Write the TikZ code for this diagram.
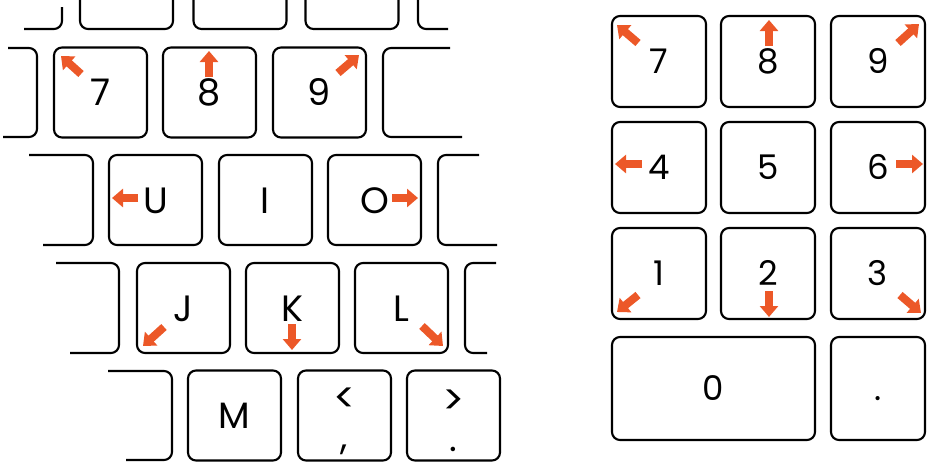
\documentclass[tikz,border=0pt]{standalone}
\usepackage{fontspec}
\setmainfont{Poppins}
\usetikzlibrary{arrows.meta}

\definecolor{keyorange}{RGB}{236,88,40}

\tikzset{every picture/.style={line width=0.75pt}}
\tikzset{
  key/.style={draw, line width=1.6pt, rounded corners=6pt, inner sep=0pt,
    minimum width=69.75pt, minimum height=67.5pt,
    font=\fontsize{27.5}{27.5}\selectfont, text height=19.5pt, text depth=0pt},
  padkey/.style={key, minimum width=70.5pt, minimum height=68.25pt,
    font=\fontsize{25.5}{25.5}\selectfont, text height=18pt},
  edgekey/.style={line width=1.6pt, rounded corners=6pt},
  twolabel/.style={align=center, inner sep=0pt,
    font=\fontsize{27.5}{27.5}\selectfont},
  dirarrow/.style={draw=keyorange, line width=6pt,
    -{Triangle[width=13.5pt,length=8.25pt]}}
}

\begin{document}
\begin{tikzpicture}[x=0.75pt,y=0.75pt,yscale=-1,xscale=1]
\useasboundingbox (0,0) rectangle (928,464);
\clip (0,0) rectangle (928,464);

%Shape: top row, cut by the edge
\draw [edgekey] (62,7) -- (62,29) -- (24,29) ;
\node (t1) [key] at (126.5,-16) {};
\node (t2) [key] at (240,-16) {};
\node (t3) [key] at (352,-16) {};
\draw [edgekey] (418,0) -- (418,29) -- (448,29) ;

%Shape: row with 7 8 9
\draw [edgekey] (8,48) -- (37,48) -- (37,137) -- (3,137) ;
\node (k7) [key] at (100.5,92.5) {7};
\node (k8) [key] at (209.5,92.5) {8};
\node (k9) [key] at (319.5,92.5) {9};
\draw [edgekey] (450,48) -- (383,48) -- (383,137) -- (462,137) ;

%Shape: row with U I O
\draw [edgekey] (29,155) -- (93,155) -- (93,245) -- (43,245) ;
\node (kU) [key] at (155.5,200) {U};
\node (kI) [key] at (265.5,200) {I};
\node (kO) [key] at (374.5,200) {O};
\draw [edgekey] (479,155) -- (438,155) -- (438,245) -- (497,245) ;

%Shape: row with J K L
\draw [edgekey] (56,263) -- (119,263) -- (119,353) -- (70,353) ;
\node (kJ) [key] at (183.5,308) {J};
\node (kK) [key] at (292.5,308) {K};
\node (kL) [key] at (401.5,308) {L};
\draw [edgekey] (496,263) -- (465,263) -- (465,353) -- (487,353) ;

%Shape: row with M < >
\draw [edgekey] (108,371) -- (172,371) -- (172,460) -- (126,460) ;
\node (kM) [key] at (234.5,415.5) {M};
\node (kcomma) [key] at (344.5,415.5) {};
\node (kdot) [key] at (453.5,415.5) {};

% Text Node
\node (lcomma) [twolabel] at (344.5,421) {{\fontsize{31}{31}\selectfont <}\\[0pt],};
\node (ldot) [twolabel] at (453.5,421) {{\fontsize{31}{31}\selectfont >}\\[0pt].};

%Straight Lines: arrows on the letter keys
\draw [dirarrow] (81,74) -- (61,56) ;
\draw [dirarrow] (209,77) -- (209,51) ;
\draw [dirarrow] (338,73) -- (359,55) ;
\draw [dirarrow] (138,198) -- (112,198) ;
\draw [dirarrow] (392,198) -- (418,198) ;
\draw [dirarrow] (164,327) -- (143,346) ;
\draw [dirarrow] (292,324) -- (292,350) ;
\draw [dirarrow] (422,326) -- (443,346) ;

%Shape: numeric keypad
\node (p7) [padkey] at (659,61.5) {7};
\node (p8) [padkey] at (768,61.5) {8};
\node (p9) [padkey] at (878,61.5) {9};
\node (p4) [padkey] at (659,167.5) {4};
\node (p5) [padkey] at (768,167.5) {5};
\node (p6) [padkey] at (878,167.5) {6};
\node (p1) [padkey] at (659,273.5) {1};
\node (p2) [padkey] at (768,273.5) {2};
\node (p3) [padkey] at (878,273.5) {3};
\node (p0) [padkey, minimum width=152.25pt, minimum height=77.25pt] at (713.5,388.5) {0};
\node (pdot) [padkey, minimum height=77.25pt] at (878,388.5) {.};

%Straight Lines: arrows on the keypad
\draw [dirarrow] (638,43) -- (617,25) ;
\draw [dirarrow] (769,46) -- (769,20) ;
\draw [dirarrow] (898,43) -- (919,24) ;
\draw [dirarrow] (642,164) -- (615,164) ;
\draw [dirarrow] (896,164) -- (923,164) ;
\draw [dirarrow] (638,295) -- (617,312) ;
\draw [dirarrow] (769,291) -- (769,317) ;
\draw [dirarrow] (900,295) -- (921,313) ;

\end{tikzpicture}
\end{document}
